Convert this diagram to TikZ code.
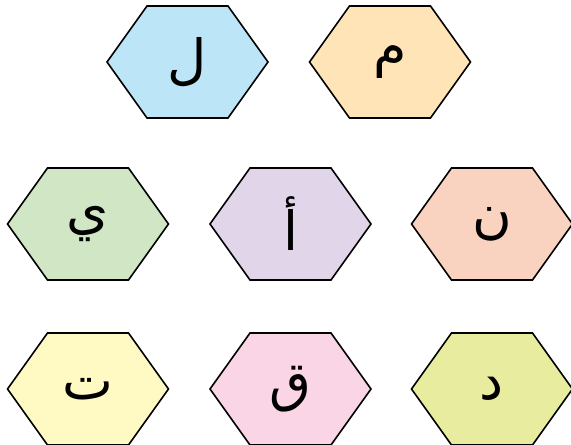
\documentclass[tikz,border=0pt]{standalone}
\usepackage{fontspec}
\usepackage{xcolor}
\usetikzlibrary{calc}
\newfontfamily\arabicfont[Script=Arabic]{DejaVu Sans}
\TeXXeTstate=1
\definecolor{cellblue}{HTML}{BDE5F8}
\definecolor{cellorange}{HTML}{FFE4B8}
\definecolor{cellgreen}{HTML}{D0E6C4}
\definecolor{cellpurple}{HTML}{E1D5EA}
\definecolor{cellpeach}{HTML}{FAD2C0}
\definecolor{cellyellow}{HTML}{FFF9C4}
\definecolor{cellpink}{HTML}{F9D5E5}
\definecolor{cellolive}{HTML}{E8EC9E}

\begin{document}
\begin{tikzpicture}[x=1pt, y=1pt, line width=1.6pt,
    hexedge/.style={draw=black, line join=miter},
    letter/.style={inner sep=0pt, font=\fontsize{54}{60}\selectfont\arabicfont}]
  \useasboundingbox (0,0) rectangle (571,445);
  \foreach \name/\x/\y/\col/\txt in {
      lam/187.5/383/cellblue/ل, mim/390/383/cellorange/م,
      ya/88/221/cellgreen/ي, alif/290.5/221/cellpurple/أ, nun/492/221/cellpeach/ن,
      ta/88/56/cellyellow/ت, qaf/290.5/56/cellpink/ق, dal/492/56/cellolive/د} {
    \filldraw[hexedge, fill=\col] (\x-80.5,\y) -- ++(40,56) -- ++(81,0)
      -- ++(40,-56) -- ++(-40,-56) -- ++(-81,0) -- cycle;
    \node[letter] (\name) at (\x,\y) {\beginR\txt\endR};
  }
\end{tikzpicture}
\end{document}
